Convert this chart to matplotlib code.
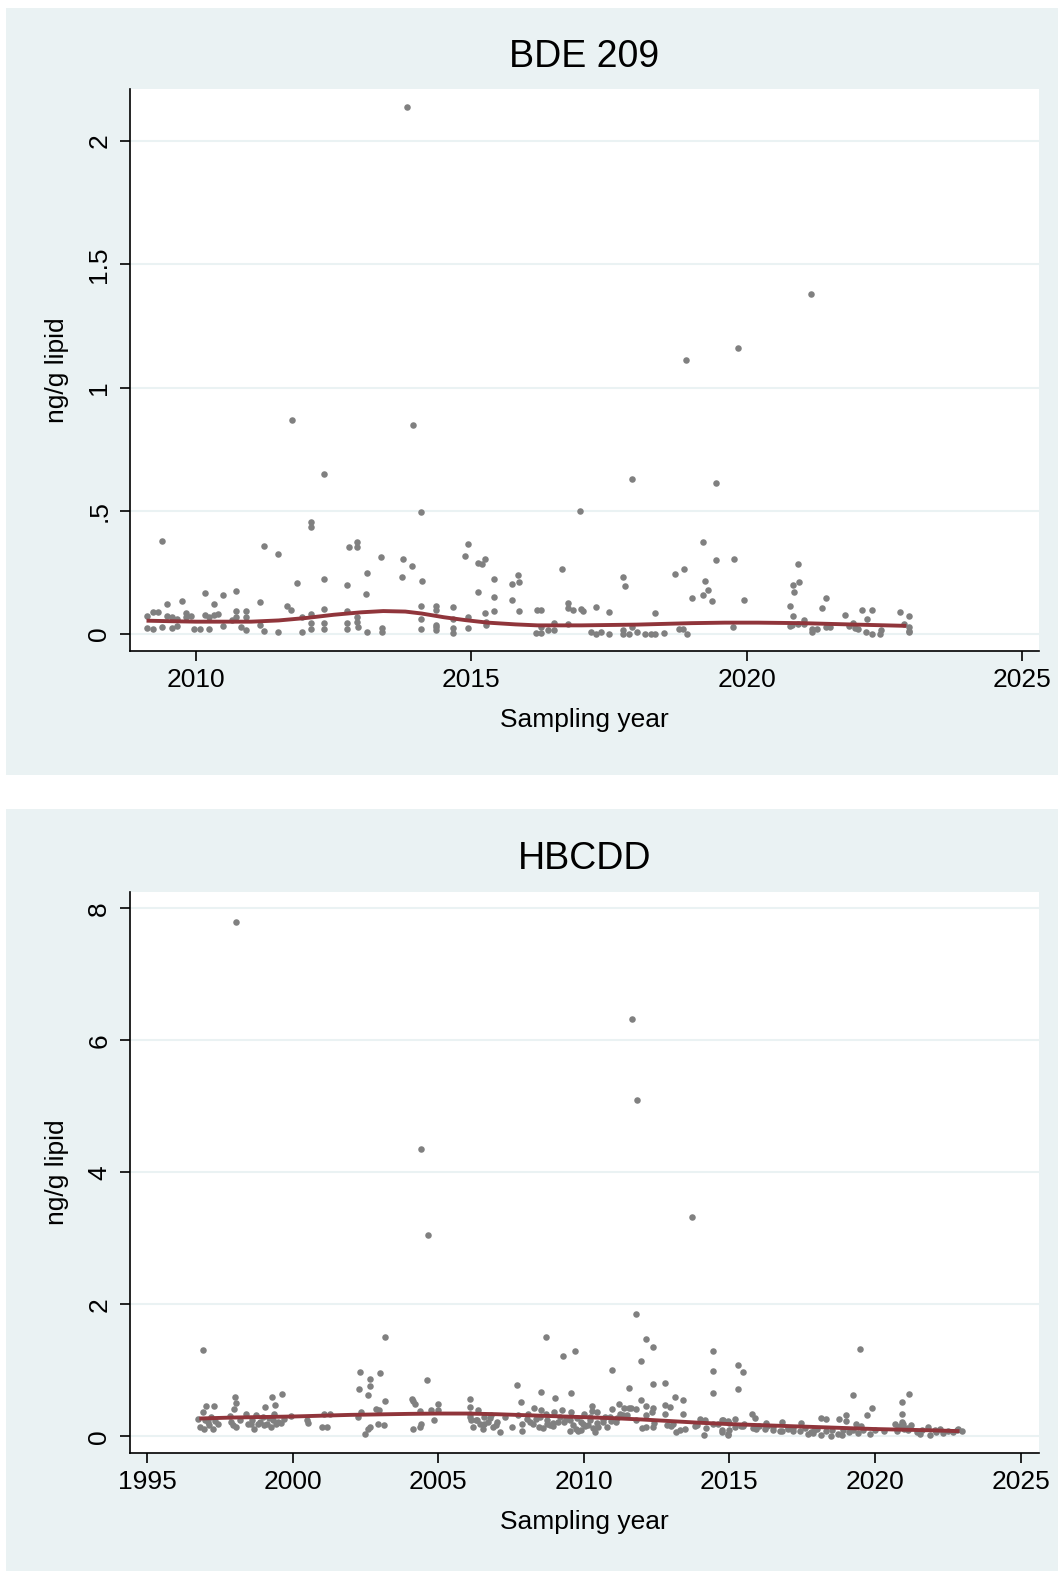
import matplotlib
matplotlib.use('Agg')
import matplotlib.pyplot as plt
from matplotlib.patches import Rectangle
import numpy as np

plt.rcParams['font.family'] = ['Liberation Sans', 'DejaVu Sans']

# ---- BDE 209 (sampling year, ng/g lipid) ----
bde_high = [
    (2013.83, 2.14), (2021.17, 1.38), (2019.84, 1.16), (2018.89, 1.11), (2011.74, 0.87),
    (2013.94, 0.847), (2012.33, 0.648), (2017.92, 0.629), (2019.44, 0.614), (2016.98, 0.499),
    (2014.08, 0.495), (2012.08, 0.456), (2012.08, 0.435), (2009.39, 0.378), (2019.21, 0.373),
    (2012.92, 0.373), (2014.94, 0.367), (2011.24, 0.358), (2012.77, 0.351), (2012.92, 0.351),
    (2011.49, 0.324), (2014.89, 0.317), (2013.36, 0.314), (2013.75, 0.305), (2019.77, 0.305),
    (2015.24, 0.304), (2019.44, 0.299), (2015.12, 0.29), (2020.94, 0.283), (2015.2, 0.282),
    (2013.92, 0.276), (2016.65, 0.265), (2018.86, 0.263), (2013.1, 0.249), (2018.70, 0.244),
    (2015.84, 0.241), (2017.75, 0.232), (2013.74, 0.232), (2015.42, 0.225), (2012.33, 0.223),
    (2019.25, 0.213), (2014.1, 0.213), (2015.86, 0.21), (2020.95, 0.209), (2011.83, 0.207),
    (2015.73, 0.203), (2012.75, 0.2), (2020.85, 0.198), (2017.79, 0.194), (2019.29, 0.177),
    (2010.73, 0.176), (2015.12, 0.172), (2020.86, 0.172), (2010.16, 0.167), (2013.08, 0.164),
    (2010.49, 0.16), (2019.20, 0.158), (2015.42, 0.152), (2021.44, 0.144), (2019.0, 0.145),
    (2019.95, 0.138), (2015.73, 0.137), (2009.75, 0.134), (2019.37, 0.133), (2011.16, 0.13),
    (2016.75, 0.125), (2009.48, 0.122), (2010.32, 0.12), (2020.78, 0.115), (2014.35, 0.114),
    (2011.66, 0.113), (2014.08, 0.112), (2017.26, 0.11), (2014.66, 0.11), (2016.76, 0.107),
    (2021.36, 0.107), (2012.33, 0.103), (2017.0, 0.101), (2022.27, 0.099), (2016.19, 0.098),
    (2016.26, 0.098), (2011.73, 0.098), (2014.35, 0.098), (2022.10, 0.098), (2016.84, 0.097),
    (2017.03, 0.095), (2012.75, 0.092), (2015.42, 0.092), (2015.86, 0.092), (2017.50, 0.089),
    (2009.22, 0.088), (2009.3, 0.088), (2022.79, 0.088), (2015.24, 0.085), (2018.34, 0.084),
    (2021.79, 0.078), (2009.1, 0.075), (2020.85, 0.072), (2022.94, 0.072), (2014.94, 0.069),
    (2022.19, 0.060),
]
bde_low = [
    (2009.10, 0.026), (2009.22, 0.019), (2009.39, 0.029), (2009.48, 0.073), (2009.57, 0.067),
    (2009.57, 0.024), (2009.65, 0.060), (2009.65, 0.033), (2009.82, 0.087), (2009.82, 0.067),
    (2009.90, 0.075), (2009.96, 0.019), (2010.07, 0.020), (2010.16, 0.076), (2010.23, 0.069),
    (2010.23, 0.022), (2010.32, 0.076), (2010.40, 0.083), (2010.49, 0.031), (2010.66, 0.058),
    (2010.73, 0.093), (2010.73, 0.069), (2010.82, 0.029), (2010.90, 0.095), (2010.90, 0.069),
    (2010.90, 0.015), (2011.17, 0.037), (2011.23, 0.012), (2011.49, 0.007), (2011.92, 0.007),
    (2011.92, 0.068), (2012.09, 0.083), (2012.09, 0.044), (2012.09, 0.019), (2012.33, 0.044),
    (2012.33, 0.019), (2012.75, 0.046), (2012.75, 0.019), (2012.92, 0.067), (2012.92, 0.050),
    (2012.95, 0.030), (2013.10, 0.007), (2013.38, 0.026), (2013.38, 0.007), (2014.08, 0.060),
    (2014.08, 0.020), (2014.35, 0.030), (2014.35, 0.016), (2014.35, 0.037), (2014.66, 0.060),
    (2014.66, 0.026), (2014.66, 0.003), (2014.93, 0.026), (2015.27, 0.050), (2015.27, 0.037),
    (2016.17, 0.003), (2016.26, 0.030), (2016.26, 0.003), (2016.40, 0.018), (2016.50, 0.046),
    (2016.51, 0.015), (2016.75, 0.039), (2017.17, 0.010), (2017.27, 0.0), (2017.35, 0.010),
    (2017.50, 0.0), (2017.75, 0.015), (2017.75, 0.0), (2017.86, 0.0), (2017.92, 0.027),
    (2018.01, 0.010), (2018.16, 0.001), (2018.26, 0.001), (2018.34, 0.001), (2018.50, 0.003),
    (2018.77, 0.020), (2018.85, 0.019), (2018.92, 0.001), (2019.75, 0.027), (2020.79, 0.031),
    (2020.83, 0.037), (2020.94, 0.042), (2021.04, 0.057), (2021.05, 0.041), (2021.18, 0.019),
    (2021.18, 0.010), (2021.28, 0.022), (2021.44, 0.027), (2021.51, 0.027), (2021.86, 0.033),
    (2021.93, 0.046), (2021.97, 0.024), (2022.03, 0.019), (2022.17, 0.008), (2022.28, 0.001),
    (2022.43, 0.001), (2022.44, 0.016), (2022.85, 0.042), (2022.94, 0.010), (2022.95, 0.011),
    (2022.94, 0.030),
]
bde_fit_year = [2009.1, 2009.5, 2010.0, 2010.5, 2011.0, 2011.5, 2012.0, 2012.5, 2013.0, 2013.4,
                2013.8, 2014.1, 2014.5, 2014.9, 2015.3, 2015.8, 2016.2, 2017.0, 2018.0, 2019.0,
                2019.6, 2020.2, 2021.0, 2022.0, 2022.9]
bde_fit_val = [0.054, 0.052, 0.050, 0.050, 0.050, 0.055, 0.065, 0.078, 0.088, 0.093,
               0.091, 0.083, 0.068, 0.056, 0.046, 0.039, 0.035, 0.035, 0.038, 0.044,
               0.046, 0.046, 0.044, 0.038, 0.033]

# ---- HBCDD ----
hbcdd_high = [
    (1998.06, 7.79), (2011.67, 6.33), (2011.84, 5.09), (2004.42, 4.36), (2004.66, 3.05),
    (2013.73, 3.33), (2011.79, 1.86), (2003.18, 1.50), (2008.70, 1.51), (2012.14, 1.48),
    (2012.39, 1.35), (2019.49, 1.327), (1996.91, 1.307), (2009.71, 1.29), (2014.42, 1.297),
    (2009.30, 1.21), (2011.96, 1.145), (2015.29, 1.079), (2010.96, 1.008), (2014.42, 0.988),
    (2002.33, 0.977), (2015.47, 0.977), (2003.02, 0.967), (2002.65, 0.866), (2004.61, 0.846),
    (2012.80, 0.806), (2012.39, 0.80), (2007.71, 0.78), (2002.65, 0.755), (2011.54, 0.735),
    (2002.27, 0.714), (2015.29, 0.714), (2008.52, 0.673), (2009.55, 0.663), (2014.42, 0.653),
    (1999.63, 0.643), (2021.16, 0.643), (2002.60, 0.623), (2019.26, 0.623), (1998.03, 0.593),
    (1999.31, 0.593), (2013.14, 0.592), (2009.01, 0.582), (2004.09, 0.573), (2006.10, 0.567),
    (2013.42, 0.552), (2011.98, 0.547), (2003.17, 0.537), (2004.13, 0.537), (2007.86, 0.527),
    (2020.91, 0.517), (1998.06, 0.506), (2004.21, 0.491), (2011.22, 0.491), (2005.0, 0.486),
    (2012.80, 0.481), (1999.40, 0.476), (2010.29, 0.466), (1997.03, 0.456), (1997.31, 0.456),
    (2012.15, 0.456), (1999.04, 0.446), (2012.96, 0.446), (2011.54, 0.436), (2012.39, 0.436),
    (2019.91, 0.426), (1998.0, 0.421), (2011.79, 0.421), (2002.88, 0.415), (2002.97, 0.40),
    (2004.38, 0.385), (1996.91, 0.37), (2002.34, 0.37), (2001.07, 0.344), (2001.28, 0.344),
    (2020.91, 0.345), (2015.78, 0.334), (2019.73, 0.329), (2018.99, 0.319), (1999.94, 0.309),
    (2002.25, 0.299), (2015.89, 0.284), (2018.16, 0.284), (2018.31, 0.268), (2015.18, 0.268),
    (2018.75, 0.258), (2000.49, 0.253), (2014.78, 0.243), (2014.96, 0.233), (2018.99, 0.228),
    (2016.82, 0.218), (2020.91, 0.218), (2000.52, 0.208), (2016.24, 0.203), (2017.47, 0.203),
    (2019.34, 0.193), (2020.68, 0.193), (2004.41, 0.182), (2002.92, 0.182), (2003.13, 0.177),
    (2021.25, 0.177), (2001.01, 0.142), (2001.18, 0.142), (2002.67, 0.142), (2004.38, 0.142),
    (2021.83, 0.142), (2002.58, 0.117), (2022.23, 0.117), (2022.86, 0.117), (2004.13, 0.111),
    (2002.5, 0.041),
]
hbcdd_early = [
    (1996.74, 0.258), (1996.83, 0.142), (1996.97, 0.117), (1997.09, 0.218), (1997.14, 0.167),
    (1997.26, 0.117), (1997.34, 0.233), (1997.43, 0.182), (1997.86, 0.304), (1997.89, 0.218),
    (1997.96, 0.177), (1998.06, 0.137), (1998.40, 0.334), (1998.46, 0.182), (1998.57, 0.193),
    (1998.69, 0.106), (1998.75, 0.319), (1998.80, 0.182), (1998.97, 0.294), (1999.03, 0.167),
    (1999.12, 0.193), (1999.26, 0.142), (1999.32, 0.243), (1999.38, 0.345), (1999.43, 0.182),
    (1999.49, 0.218), (1999.60, 0.203), (1997.0, 0.25), (1997.2, 0.30), (1998.2, 0.25),
    (1998.9, 0.22), (1999.7, 0.26), (1999.2, 0.28), (1998.6, 0.24),
]
hbcdd_mid = [
    (2004.76, 0.395), (2004.87, 0.243), (2004.99, 0.405), (2006.10, 0.446), (2006.10, 0.345),
    (2006.13, 0.243), (2006.20, 0.142), (2006.31, 0.243), (2006.36, 0.395), (2006.44, 0.193),
    (2006.54, 0.106), (2006.59, 0.294), (2006.71, 0.218), (2006.82, 0.319), (2006.88, 0.142),
    (2006.99, 0.167), (2007.11, 0.066), (2007.28, 0.294), (2007.52, 0.147), (2007.74, 0.319),
    (2007.88, 0.193), (2007.88, 0.081), (2008.08, 0.345), (2008.14, 0.218), (2008.29, 0.436),
    (2008.37, 0.268), (2008.45, 0.142), (2008.52, 0.405), (2008.71, 0.345), (2008.75, 0.193),
    (2008.83, 0.167), (2008.95, 0.152), (2008.98, 0.370), (2009.11, 0.218), (2009.26, 0.395),
    (2009.32, 0.218), (2009.40, 0.268), (2009.54, 0.076), (2009.55, 0.370), (2009.63, 0.167),
    (2009.74, 0.117), (2009.80, 0.076), (2009.89, 0.218), (2010.01, 0.345), (2010.03, 0.152),
    (2010.14, 0.167), (2010.22, 0.294), (2010.29, 0.380), (2010.37, 0.066), (2010.46, 0.370),
    (2010.49, 0.142), (2010.66, 0.218), (2010.72, 0.294), (2010.80, 0.142), (2010.95, 0.228),
    (2010.98, 0.421), (2011.12, 0.218), (2011.23, 0.345), (2011.38, 0.431), (2011.61, 0.431),
    (2012.12, 0.319), (2012.12, 0.142), (2012.34, 0.370), (2012.39, 0.142), (2012.78, 0.345),
    (2012.87, 0.167), (2013.06, 0.193), (2013.15, 0.066), (2013.42, 0.334), (2013.46, 0.106),
    (2013.81, 0.152), (2013.98, 0.268), (2014.13, 0.015), (2014.15, 0.243), (2014.44, 0.193),
    (2014.73, 0.243), (2014.73, 0.091), (2014.95, 0.041),
    (2006.10, 0.29), (2006.33, 0.24), (2006.56, 0.19), (2006.79, 0.27), (2007.01, 0.22),
    (2008.04, 0.26), (2008.27, 0.19), (2008.50, 0.30), (2008.73, 0.24), (2008.95, 0.20),
    (2009.18, 0.29), (2009.53, 0.24), (2009.76, 0.27), (2009.99, 0.19), (2010.21, 0.24),
    (2010.44, 0.20), (2010.67, 0.26), (2010.90, 0.30), (2011.13, 0.27), (2011.35, 0.32),
    (2010.3, 0.12), (2009.9, 0.10), (2008.6, 0.13),
]
hbcdd_late = [
    (2014.73, 0.066), (2014.96, 0.015), (2015.18, 0.142), (2015.47, 0.152), (2015.81, 0.127),
    (2016.21, 0.117), (2016.50, 0.091), (2016.73, 0.081), (2017.02, 0.117), (2017.19, 0.076),
    (2017.42, 0.076), (2017.70, 0.041), (2017.88, 0.051), (2018.16, 0.015), (2018.48, 0.0),
    (2018.51, 0.101), (2018.74, 0.030), (2018.87, 0.015), (2018.91, 0.091), (2019.25, 0.091),
    (2019.42, 0.051), (2019.51, 0.152), (2019.82, 0.041), (2019.99, 0.101), (2020.74, 0.081),
    (2020.85, 0.152), (2021.14, 0.091), (2021.43, 0.066), (2021.54, 0.041), (2021.88, 0.015),
    (2022.06, 0.091), (2022.34, 0.051), (2022.69, 0.066), (2022.97, 0.076), (2020.8, 0.12),
    (2020.9, 0.16), (2021.0, 0.11), (2020.95, 0.18), (2021.1, 0.13), (2015.0, 0.20),
    (2015.5, 0.18), (2016.0, 0.16), (2016.5, 0.14), (2017.0, 0.13), (2017.6, 0.12),
    (2018.0, 0.11), (2018.3, 0.08), (2019.1, 0.07), (2019.6, 0.10), (2020.3, 0.08),
    (2021.6, 0.10), (2022.1, 0.07), (2022.5, 0.08), (2022.8, 0.09),
    (2011.5, 0.33), (2011.8, 0.25), (2012.4, 0.20), (2012.0, 0.12), (2013.0, 0.15),
    (2013.3, 0.10), (2013.9, 0.17), (2014.2, 0.12), (2014.6, 0.18), (2015.0, 0.10),
    (2015.4, 0.16), (2015.9, 0.11), (2016.3, 0.15), (2016.8, 0.08), (2017.2, 0.13),
    (2017.8, 0.07), (2017.9, 0.10),
]
hbcdd_fit_year = [1996.8, 1998, 2000, 2002, 2004, 2005, 2006, 2007, 2008, 2009, 2010, 2011,
                  2012, 2013, 2014, 2015, 2016, 2017, 2018, 2019, 2020, 2021, 2022, 2022.9]
hbcdd_fit_val = [0.27, 0.285, 0.30, 0.325, 0.34, 0.345, 0.345, 0.335, 0.32, 0.305, 0.29, 0.275,
                 0.255, 0.23, 0.205, 0.185, 0.17, 0.155, 0.14, 0.125, 0.11, 0.10, 0.09, 0.078]

bde_ticks = [0, 0.5, 1, 1.5, 2]
bde_ticklabels = ['0', '.5', '1', '1.5', '2']
hbcdd_ticks = [0, 2, 4, 6, 8]
hbcdd_ticklabels = ['0', '2', '4', '6', '8']

W, H = 1058, 1571
BG = '#eaf2f3'
DOT = '#808080'
FIT = '#90353b'

fig = plt.figure(figsize=(W / 100, H / 100), dpi=100)
fig.patch.set_facecolor('white')

# panel backgrounds (px: x0, y_top, x1, y_bottom)
for x0, yt, x1, yb in [(6, 8, 1058, 775), (6, 809, 1058, 1571)]:
    fig.patches.append(Rectangle((x0 / W, 1 - yb / H), (x1 - x0) / W, (yb - yt) / H,
                                 transform=fig.transFigure, facecolor=BG, edgecolor='none', zorder=-5))


def make_panel(rect_px, pts, fit_x, fit_y, xlim, ylim, xticks, yticks, yticklabels, title,
               title_y, xlab_y):
    left, top, right, bottom = rect_px
    ax = fig.add_axes([left / W, 1 - bottom / H, (right - left) / W, (bottom - top) / H])
    ax.set_zorder(2)
    ax.set_facecolor('white')
    for t in yticks:
        ax.axhline(t, color=BG, lw=1.5, zorder=1)
    arr = np.array(pts)
    ax.plot(arr[:, 0], arr[:, 1], 'o', ms=4.7, mew=0, color=DOT, zorder=3)
    ax.plot(fit_x, fit_y, '-', color=FIT, lw=2.8, zorder=4, solid_capstyle='butt')
    ax.set_xlim(*xlim)
    ax.set_ylim(*ylim)
    ax.set_xticks(xticks)
    ax.set_yticks(yticks)
    ax.set_yticklabels(yticklabels, rotation=90, va='center')
    for s in ['top', 'right']:
        ax.spines[s].set_visible(False)
    for s in ['left', 'bottom']:
        ax.spines[s].set_linewidth(1.2)
        ax.spines[s].set_color('black')
    ax.tick_params(axis='both', length=7.5, width=1.2, labelsize=19, colors='black')
    ax.tick_params(axis='x', pad=5)
    ax.tick_params(axis='y', pad=6)
    cx = (left + right) / 2 / W
    fig.text(cx, 1 - title_y / H, title, ha='center', va='baseline', fontsize=27)
    fig.text(cx, 1 - xlab_y / H, 'Sampling year', ha='center', va='baseline', fontsize=19)
    fig.text(57 / W, 1 - (top + bottom) / 2 / H, 'ng/g lipid', ha='center', va='center',
             fontsize=19, rotation=90)
    return ax


make_panel((130, 89, 1039, 651), bde_high + bde_low, bde_fit_year, bde_fit_val,
           (2008.80, 2025.31), (-0.069, 2.211), [2010, 2015, 2020, 2025],
           bde_ticks, bde_ticklabels, 'BDE 209', 67, 727)

make_panel((130, 892, 1039, 1453), hbcdd_high + hbcdd_early + hbcdd_mid + hbcdd_late,
           hbcdd_fit_year, hbcdd_fit_val,
           (1994.42, 2025.63), (-0.253, 8.25), [1995, 2000, 2005, 2010, 2015, 2020, 2025],
           hbcdd_ticks, hbcdd_ticklabels, 'HBCDD', 869, 1529)

fig.savefig('out.png', dpi=100, facecolor='white')
